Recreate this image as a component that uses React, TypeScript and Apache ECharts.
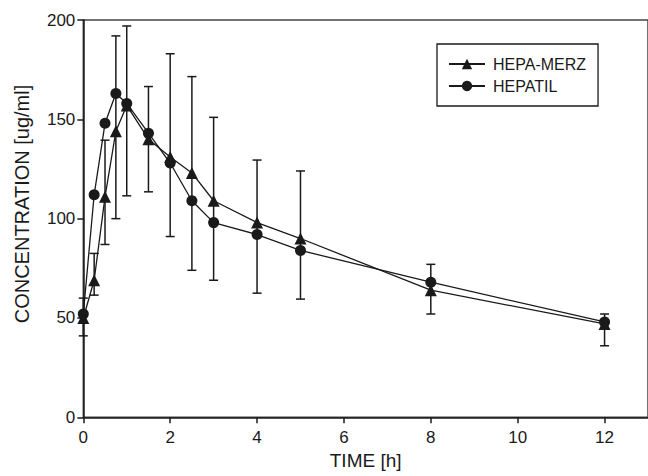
import React, { useEffect, useRef } from "react";
import * as echarts from "echarts";

const times = [0, 0.25, 0.5, 0.75, 1, 1.5, 2, 2.5, 3, 4, 5, 8, 12];
const hepaMerz = [50, 69, 111, 144, 157, 140, 131, 123, 109, 98, 90, 64, 47];
const hepatil = [52, 112, 148, 163, 158, 143, 128, 109, 98, 92, 84, 68, 48];
const errLow = [41, 61.5, 87, 100, 111.5, 113.5, 91, 74, 69, 62.5, 59.5, 52, 36];
const errHigh = [60, 82.5, 139.5, 192, 197, 166.5, 183, 171.5, 151, 129.5, 124, 77, 52];
const seriesNames = ["HEPA-MERZ", "HEPATIL"];
const xTicks = [0, 2, 4, 6, 8, 10, 12];

const FONT = '"Liberation Sans", Arial, Helvetica, sans-serif';
const INK = "#1a1a1a";

export default function App() {
  const ref = useRef<HTMLDivElement>(null);
  useEffect(() => {
    if (!ref.current) return;
    const chart = echarts.init(ref.current, null, { renderer: "svg" });
    const errData = times.map((t, i) => [t, errLow[i], errHigh[i]]);
    chart.setOption({
      animation: false,
      backgroundColor: "#ffffff",
      textStyle: { fontFamily: FONT, color: INK },
      grid: {
        left: 83.3,
        right: -3,
        top: 20,
        bottom: 476 - 417.3,
        show: true,
        borderColor: "#444",
        borderWidth: 1.5,
      },
      legend: {
        data: seriesNames,
        orient: "vertical",
        left: 437,
        top: 44,
        width: 161,
        padding: [12, 12, 12, 11],
        itemWidth: 36,
        itemHeight: 13,
        itemGap: 6,
        borderColor: INK,
        borderWidth: 1.3,
        textStyle: { fontFamily: FONT, fontSize: 16, color: INK, padding: [0, 0, 0, 3] },
      },
      xAxis: {
        type: "value",
        min: 0,
        max: 13,
        interval: 2,
        name: "TIME [h]",
        nameLocation: "middle",
        nameGap: 33,
        nameTextStyle: { fontFamily: FONT, fontSize: 19, color: INK },
        axisLine: { show: true, lineStyle: { color: INK, width: 1.5 } },
        axisTick: { show: true, length: 6, lineStyle: { color: INK, width: 1.5 } },
        axisLabel: {
          fontFamily: FONT,
          fontSize: 17,
          color: INK,
          margin: 12,
          showMaxLabel: false,
          formatter: (v: number) => (xTicks.includes(v) ? String(v) : ""),
        },
        splitLine: { show: false },
      },
      yAxis: {
        type: "value",
        min: 0,
        max: 200,
        interval: 50,
        axisLine: { show: true, lineStyle: { color: INK, width: 1.5 } },
        axisTick: { show: true, length: 6, lineStyle: { color: INK, width: 1.5 } },
        axisLabel: { fontFamily: FONT, fontSize: 17, color: INK, margin: 8 },
        splitLine: { show: false },
      },
      graphic: [
        {
          type: "text",
          x: 22,
          y: 204,
          rotation: Math.PI / 2,
          style: {
            text: "CONCENTRATION [ug/ml]",
            font: `20px ${FONT}`,
            fill: INK,
            align: "center",
            verticalAlign: "middle",
          },
        },
      ],
      series: [
        {
          name: "SD",
          type: "custom",
          data: errData,
          encode: { x: 0, y: [1, 2] },
          z: 1,
          renderItem: (params: any, api: any) => {
            const x = api.value(0);
            const lo = api.coord([x, api.value(1)]);
            const hi = api.coord([x, api.value(2)]);
            const hw = 4.5;
            const st = { stroke: INK, lineWidth: 1.5 };
            return {
              type: "group",
              children: [
                { type: "line", shape: { x1: lo[0], y1: lo[1], x2: hi[0], y2: hi[1] }, style: st },
                { type: "line", shape: { x1: lo[0] - hw, y1: lo[1], x2: lo[0] + hw, y2: lo[1] }, style: st },
                { type: "line", shape: { x1: hi[0] - hw, y1: hi[1], x2: hi[0] + hw, y2: hi[1] }, style: st },
              ],
            };
          },
        },
        {
          name: seriesNames[0],
          type: "line",
          data: times.map((t, i) => [t, hepaMerz[i]]),
          symbol: "triangle",
          symbolSize: 12,
          z: 3,
          lineStyle: { color: INK, width: 1.3 },
          itemStyle: { color: INK },
        },
        {
          name: seriesNames[1],
          type: "line",
          data: times.map((t, i) => [t, hepatil[i]]),
          symbol: "circle",
          symbolSize: 11,
          z: 4,
          lineStyle: { color: INK, width: 1.3 },
          itemStyle: { color: INK },
        },
      ],
    });
    return () => chart.dispose();
  }, []);
  return (
    <div
      ref={ref}
      style={{ position: "fixed", left: 0, top: 0, width: 648, height: 476, background: "#fff" }}
    />
  );
}
